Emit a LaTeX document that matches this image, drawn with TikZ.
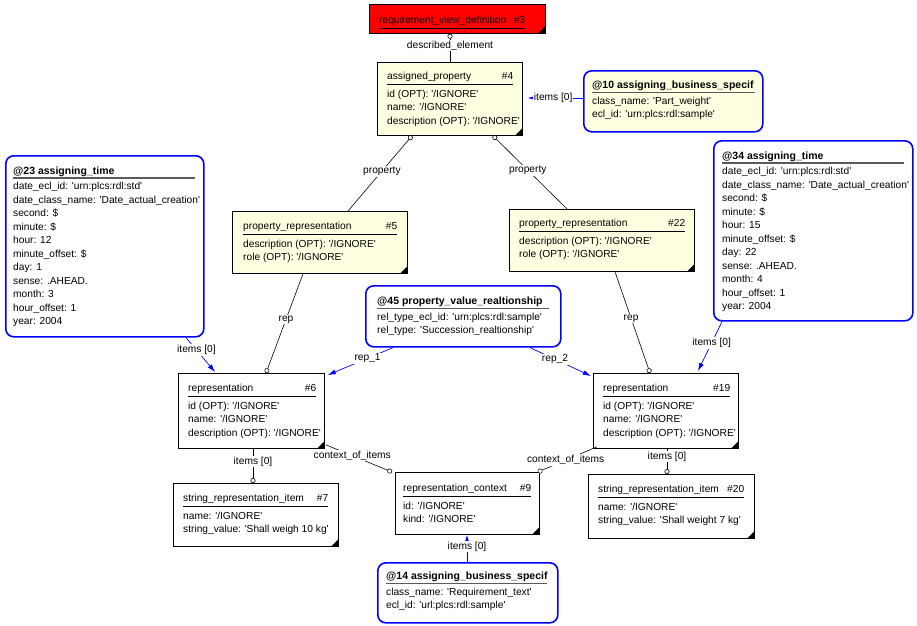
\documentclass[tikz,border=0pt]{standalone}
\usepackage{fontspec}
\setmainfont{Liberation Sans}[Ligatures=TeXOff]
\usetikzlibrary{arrows.meta,calc}
\definecolor{ent}{RGB}{255,255,225}
\definecolor{bblue}{RGB}{0,0,255}
\definecolor{rgray}{RGB}{90,90,90}
\newcommand\ebody[4]{\begin{minipage}[t]{#1}\fontsize{10.2}{13.5}\selectfont\strut#2\hfill#3\par\hrule height 0.7pt\vspace{3.5pt}\begin{tabular}[t]{@{}l@{}}#4\end{tabular}\end{minipage}}
\newcommand\abody[3]{\begin{minipage}[t]{#1}\fontsize{10.2}{13.5}\selectfont\strut\makebox[0pt][l]{\bfseries\fontsize{10.5}{13.5}\selectfont#2}\par\vspace{-1pt}{\color{rgray}\hrule height 1.5pt}\vspace{1.5pt}\begin{tabular}[t]{@{}l@{}}#3\end{tabular}\end{minipage}}
\newcommand\cornertri[1]{\fill ($(#1.south east)+(-8,0)$) -- (#1.south east) -- ($(#1.south east)+(0,-8)$) -- cycle;}
\tikzset{oc/.tip={Circle[length=5pt,width=5pt,fill=white,line width=0.6pt]}}
\begin{document}
\begin{tikzpicture}[x=1pt,y=-1pt,
 every node/.style={font=\fontsize{10.2}{12}\selectfont},
 box/.style={draw=black, line width=0.8pt, fill=white, inner sep=0pt, anchor=north west},
 ybox/.style={box, fill=ent},
 abox/.style={draw=bblue, line width=1.6pt, rounded corners=8pt, fill=white, inner sep=0pt, anchor=north west},
 txt/.style={inner sep=0pt, anchor=north west},
 lbl/.style={fill=white, inner sep=1pt},
 conn/.style={draw=black, line width=0.6pt},
 bconn/.style={draw=bblue, line width=0.7pt, -{Latex[length=8pt,width=5pt]}}]
\useasboundingbox[fill=white] (0,0) rectangle (917,625);

% entity boxes
\node[box, fill=red, minimum width=176pt, minimum height=29pt] (n3) at (369,4) {};
\node[txt] (n3t) at ($(n3.north west)+(10,10)$) {\ebody{146pt}{requirement\_view\_definition}{\#3}{}};

\node[ybox, minimum width=145pt, minimum height=73pt] (n4) at (377,62) {};
\node[txt] (n4t) at ($(n4.north west)+(10,8)$) {\ebody{126pt}{assigned\_property}{\#4}{id (OPT): '/IGNORE'\\ name: '/IGNORE'\\ description (OPT): '/IGNORE'}};

\node[abox, fill=ent, minimum width=179pt, minimum height=61pt] (n10) at (583,70) {};
\node[txt] (n10t) at ($(n10.north west)+(9,9)$) {\abody{163pt}{@10 assigning\_business\_specif}{class\_name: 'Part\_weight'\\ ecl\_id: 'urn:plcs:rdl:sample'}};

\node[abox, minimum width=198pt, minimum height=181pt] (n23) at (5,155) {};
\node[txt] (n23t) at ($(n23.north west)+(8,9.5)$) {\abody{182pt}{@23 assigning\_time}{date\_ecl\_id: 'urn:plcs:rdl:std'\\ date\_class\_name: 'Date\_actual\_creation'\\ second: \$\\ minute: \$\\ hour: 12\\ minute\_offset: \$\\ day: 1\\ sense: .AHEAD.\\ month: 3\\ hour\_offset: 1\\ year: 2004}};

\node[abox, minimum width=199pt, minimum height=180pt] (n34) at (713,140) {};
\node[txt] (n34t) at ($(n34.north west)+(9,9.5)$) {\abody{182pt}{@34 assigning\_time}{date\_ecl\_id: 'urn:plcs:rdl:std'\\ date\_class\_name: 'Date\_actual\_creation'\\ second: \$\\ minute: \$\\ hour: 15\\ minute\_offset: \$\\ day: 22\\ sense: .AHEAD.\\ month: 4\\ hour\_offset: 1\\ year: 2004}};

\node[ybox, minimum width=175pt, minimum height=62pt] (n5) at (232,211) {};
\node[txt] (n5t) at ($(n5.north west)+(11,9)$) {\ebody{154pt}{property\_representation}{\#5}{description (OPT): '/IGNORE'\\ role (OPT): '/IGNORE'}};

\node[ybox, minimum width=185pt, minimum height=62pt] (n22) at (509,209) {};
\node[txt] (n22t) at ($(n22.north west)+(10,8)$) {\ebody{166pt}{property\_representation}{\#22}{description (OPT): '/IGNORE'\\ role (OPT): '/IGNORE'}};

\node[abox, minimum width=195pt, minimum height=61pt] (n45) at (365,285) {};
\node[txt] (n45t) at ($(n45.north west)+(12,10)$) {\abody{172pt}{@45 property\_value\_realtionship}{rel\_type\_ecl\_id: 'urn:plcs:rdl:sample'\\ rel\_type: 'Succession\_realtionship'}};

\node[box, minimum width=146pt, minimum height=75pt] (n6) at (178,373) {};
\node[txt] (n6t) at ($(n6.north west)+(10,9)$) {\ebody{128pt}{representation}{\#6}{id (OPT): '/IGNORE'\\ name: '/IGNORE'\\ description (OPT): '/IGNORE'}};

\node[box, minimum width=145pt, minimum height=75pt] (n19) at (593,373) {};
\node[txt] (n19t) at ($(n19.north west)+(10,9)$) {\ebody{127pt}{representation}{\#19}{id (OPT): '/IGNORE'\\ name: '/IGNORE'\\ description (OPT): '/IGNORE'}};

\node[box, minimum width=165pt, minimum height=63pt] (n7) at (173,483) {};
\node[txt] (n7t) at ($(n7.north west)+(10,9)$) {\ebody{145pt}{string\_representation\_item}{\#7}{name: '/IGNORE'\\ string\_value: 'Shall weigh 10 kg'}};

\node[box, minimum width=144pt, minimum height=62pt] (n9) at (395,472) {};
\node[txt] (n9t) at ($(n9.north west)+(8,10)$) {\ebody{128pt}{representation\_context}{\#9}{id: '/IGNORE'\\ kind: '/IGNORE'}};

\node[box, minimum width=166pt, minimum height=64pt] (n20) at (588,474) {};
\node[txt] (n20t) at ($(n20.north west)+(10,9)$) {\ebody{146pt}{string\_representation\_item}{\#20}{name: '/IGNORE'\\ string\_value: 'Shall weight 7 kg'}};

\node[abox, minimum width=180pt, minimum height=60pt] (n14) at (377,562) {};
\node[txt] (n14t) at ($(n14.north west)+(9,8)$) {\abody{161pt}{@14 assigning\_business\_specif}{class\_name: 'Requirement\_text'\\ ecl\_id: 'url:plcs:rdl:sample'}};

% corner marks
\cornertri{n3}\cornertri{n4}\cornertri{n5}\cornertri{n22}\cornertri{n6}
\cornertri{n19}\cornertri{n7}\cornertri{n9}\cornertri{n20}

% black connectors
\draw[conn, oc-] ($(n3.south west)+(81,0)$) -- node[lbl,pos=0.41] (l1) {described\_element} ($(n4.north west)+(73,0)$);
\draw[conn, oc-] ($(n4.south west)+(35,0)$) -- node[lbl,pos=0.47] (l2) {property} ($(n5.north west)+(116,0)$);
\draw[conn, oc-] ($(n4.south west)+(116,0)$) -- node[lbl,pos=0.47] (l3) {property} ($(n22.north west)+(58,0)$);
\draw[conn, -oc] ($(n5.south west)+(71,0)$) -- node[lbl,pos=0.46] (l4) {rep} ($(n6.north west)+(88,0)$);
\draw[conn, -oc] ($(n22.south west)+(106,0)$) -- node[lbl,pos=0.46] (l5) {rep} ($(n19.north west)+(57,0)$);
\draw[conn, -oc] ($(n6.south west)+(75,0)$) -- node[lbl,pos=0.37] (l11) {items [0]} ($(n7.north west)+(80,0)$);
\draw[conn, -oc] ($(n6.south east)+(1,-4)$) -- node[lbl,pos=0.40] (l12) {context\_of\_items} ($(n9.north west)+(-3,0)$);
\draw[conn, -oc] ($(n19.south west)+(4,-2)$) -- node[lbl,pos=0.53] (l13) {context\_of\_items} ($(n9.north east)+(-2,0)$);
\draw[conn, -oc] ($(n19.south west)+(74,0)$) -- node[lbl,pos=0.3] (l14) {items [0]} ($(n20.north west)+(79,0)$);

% blue connectors
\draw[bconn] ($(n45.south west)+(28,0)$) -- node[lbl,pos=0.39] (l6) {rep\_1} ($(n6.north east)+(3,2)$);
\draw[bconn] ($(n45.south west)+(165,0)$) -- node[lbl,pos=0.41] (l7) {rep\_2} ($(n19.north west)+(-2,3)$);
\draw[bconn] ($(n23.south west)+(181,0)$) -- node[lbl,pos=0.36] (l8) {items [0]} ($(n6.north west)+(37,-1)$);
\draw[bconn] ($(n34.south west)+(9,0)$) -- node[lbl,pos=0.43] (l9) {items [0]} ($(n19.north west)+(105,-2)$);
\draw[bconn] ($(n10.north west)+(0,28)$) -- node[lbl,pos=0.54] (l10) {items [0]} ($(n4.north east)+(5,36)$);
\draw[bconn] ($(n14.north west)+(90,0)$) -- node[lbl,pos=0.57] (l15) {items [0]} ($(n9.south west)+(72,0)$);
\end{tikzpicture}
\end{document}
